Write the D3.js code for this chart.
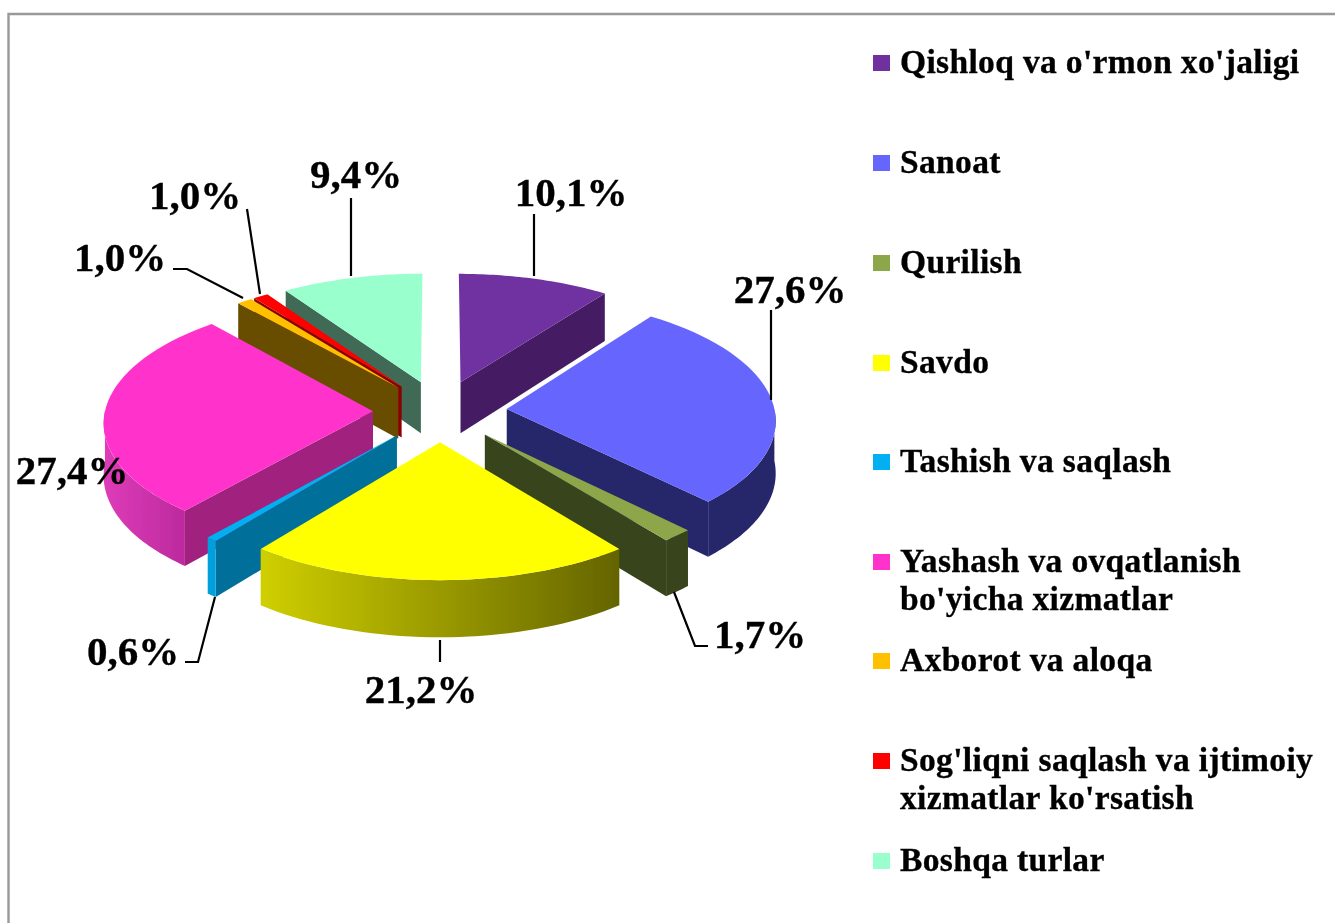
<!DOCTYPE html>
<html><head><meta charset="utf-8">
<script src="https://cdn.jsdelivr.net/npm/d3@7/dist/d3.min.js"></script>
<style>html,body{margin:0;padding:0;background:#fff}svg{display:block}</style>
</head><body><svg id="c" width="1335" height="923"></svg>
<script>
const categories = ["Qishloq va o'rmon xo'jaligi","Sanoat","Qurilish","Savdo","Tashish va saqlash","Yashash va ovqatlanish|bo'yicha xizmatlar","Axborot va aloqa","Sog'liqni saqlash va ijtimoiy|xizmatlar ko'rsatish","Boshqa turlar"];
const values = [10.1,27.6,1.7,21.2,0.6,27.4,1.0,1.0,9.4];
const valueLabels = ["10,1%","27,6%","1,7%","21,2%","0,6%","27,4%","1,0%","1,0%","9,4%"];
const topColors = ["#7030A0","#6666FF","#8CA64A","#FFFF00","#00B0F0","#FF33CC","#FFC000","#FF0000","#99FFCC"];
const sideColors = ["#451E63","#28286B","#39441F","#666600","#00709A","#A0217E","#674E00","#8B0000","#3F6B55"];
const wallLeft = ["#451E63","#28286B","#39441F","#CFCF00","#00A0DC","#DE3CB8","#674E00","#8B0000","#3F6B55"];
const wallRight = ["#451E63","#28286B","#39441F","#646400","#00A0DC","#BC2A9E","#674E00","#8B0000","#3F6B55"];
const labelX = [571,790,760,421,133,72,120,195,356];
const labelY = [206,303,648,703,665,484,271,209,188];
const leaders = [[[534,276],[534,214]],[[771,400],[771,310]],[[674,592],[695,646],[708,646]],[[440,640],[440,662]],[[215,597],[198,662],[185,662]],[],[[243,298],[187,269],[173,269]],[[260,294],[247,209]],[[351,276],[351,198]]];
const legendY = [62,162,262,362,461,561,660,760,860];

const svg = d3.select("#c"), defs = svg.append("defs");
defs.append("filter").attr("id","soft").attr("x","-5%").attr("y","-5%").attr("width","110%").attr("height","110%")
  .append("feGaussianBlur").attr("stdDeviation",0.55);
svg.append("path").attr("d","M1335,14H8.5V923").attr("fill","none").attr("stroke","#999").attr("stroke-width",2.4);

const CX=440, CY=411, RX=268, RY=123, DEPTH=52, EXPLODE=0.25;
const project=(u,v,down=0)=>{
  const s=1+0.08*v;
  return [CX+u*RX*s, CY+v*RY*s+down*DEPTH*s];
};
const pie=d3.pie().sort(null).value(d=>d)(values);
const TAU=Math.PI*2;
const line=d3.line();
const slices=pie.map((p,i)=>{
  const mid=(p.startAngle+p.endAngle)/2;
  return {i,a0:p.startAngle,a1:p.endAngle,ou:EXPLODE*Math.sin(mid),ov:-EXPLODE*Math.cos(mid)};
});
const rim=(s,a)=>[s.ou+Math.sin(a),s.ov-Math.cos(a)];
const arcPts=(s,a0,a1,down)=>d3.range(0,41).map(k=>{
  const a=a0+(a1-a0)*k/40, [u,v]=rim(s,a);
  return project(u,v,down);
});
const g=svg.append("g").attr("filter","url(#soft)");
const ordered=slices.slice().sort((a,b)=>d3.ascending(a.ov,b.ov));
ordered.forEach(s=>{
  const i=s.i, apex=[s.ou,s.ov];
  const edge=a=>{
    const r=rim(s,a);
    return [project(apex[0],apex[1],0),project(r[0],r[1],0),project(r[0],r[1],1),project(apex[0],apex[1],1)];
  };
  if(s.a0>Math.PI-1e-6) g.append("path").attr("d",line(edge(s.a0))+"Z").attr("fill",sideColors[i]);
  if(s.a1<Math.PI+1e-6) g.append("path").attr("d",line(edge(s.a1))+"Z").attr("fill",sideColors[i]);
  const w0=Math.max(s.a0,Math.PI/2), w1=Math.min(s.a1,TAU*0.75);
  if(w1>w0){
    const upper=arcPts(s,w0,w1,0), lower=arcPts(s,w0,w1,1).reverse();
    const all=upper.concat(lower), xs=d3.extent(all,d=>d[0]);
    const id="w"+i;
    const lg=defs.append("linearGradient").attr("id",id).attr("gradientUnits","userSpaceOnUse")
      .attr("x1",xs[0]).attr("x2",xs[1]).attr("y1",0).attr("y2",0);
    lg.append("stop").attr("offset",0).attr("stop-color",wallLeft[i]);
    lg.append("stop").attr("offset",1).attr("stop-color",wallRight[i]);
    g.append("path").attr("d",line(all)+"Z").attr("fill",`url(#${id})`);
  }
  const top=[project(apex[0],apex[1],0)].concat(arcPts(s,s.a0,s.a1,0));
  g.append("path").attr("d",line(top)+"Z").attr("fill",topColors[i]);
});

const t=svg.append("g").attr("filter","url(#soft)").attr("font-family","'Liberation Serif',serif").attr("font-weight","bold").attr("fill","#000").attr("stroke","#000").attr("stroke-width",0.35);
leaders.forEach(l=>{ if(l.length) t.append("path").attr("d",line(l)).attr("fill","none").attr("stroke","#000").attr("stroke-width",2.2); });
valueLabels.forEach((s,i)=>{
  t.append("text").attr("x",labelX[i]).attr("y",labelY[i]).attr("text-anchor","middle").attr("font-size",41).text(s);
});
categories.forEach((c,i)=>{
  svg.append("rect").attr("x",873).attr("y",legendY[i]-7).attr("width",17).attr("height",16).attr("fill",topColors[i]);
  c.split("|").forEach((part,k)=>{
    t.append("text").attr("x",900).attr("y",legendY[i]+11+k*38).attr("font-size",33.5).attr("letter-spacing",0.35).text(part);
  });
});
</script></body></html>
